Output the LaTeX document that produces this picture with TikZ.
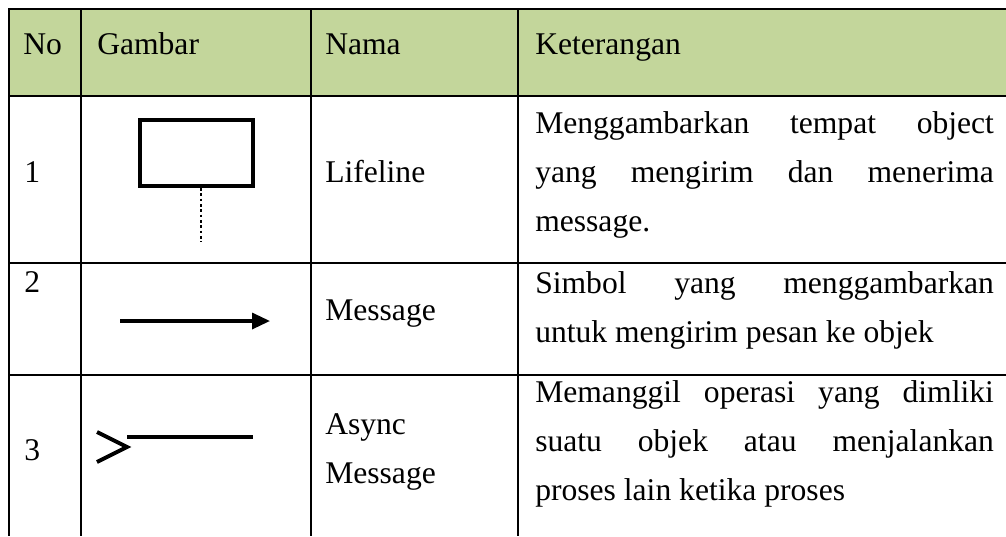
\documentclass[tikz,border=0pt]{standalone}
\usepackage{fontspec}
\setmainfont{Liberation Serif}
\usetikzlibrary{arrows.meta,positioning}
\definecolor{headgreen}{HTML}{C3D69B}

\begin{document}
\begin{tikzpicture}[
    x=0.75pt, y=-0.75pt,
    grid/.style={line width=1.5pt, color=black},
    cell/.style={anchor=base west, inner sep=0pt, font=\fontsize{23.7}{36.75}\selectfont},
    desc/.style={anchor=north west, inner sep=0pt, text width=344pt, align=justify,
                 font=\fontsize{23.7}{36.75}\selectfont},
    lifebox/.style={rectangle, draw=black, line width=3pt, minimum width=84.75pt, minimum height=49.5pt},
    msgarrow/.style={line width=2.5pt, -{Triangle[length=13.5pt,width=12pt]}},
    asyncline/.style={line width=3pt}
]
\useasboundingbox (0,0) rectangle (1006,536);

% Header background
\fill[headgreen] (9,9) rectangle (1006,96);

% Table lines
\draw[grid] (8,9) -- (1006,9);
\draw[grid] (9,96) -- (1006,96);
\draw[grid] (9,263) -- (1006,263);
\draw[grid] (9,375) -- (1006,375);
\draw[grid] (9,8) -- (9,536);
\draw[grid] (81,9) -- (81,536);
\draw[grid] (311,9) -- (311,536);
\draw[grid] (518,9) -- (518,536);

% Header
\node[cell] (hno) at (23,54) {No};
\node[cell] (hgambar) at (97,54) {Gambar};
\node[cell] (hnama) at (325,54) {Nama};
\node[cell] (hket) at (535,54) {Keterangan};

% Row 1: Lifeline
\node[cell] (no1) at (24,182) {1};
\node[lifebox] (life) at (196.5,153) {};
\coordinate (lifeend) at (201,242);
\draw[dotted, line width=2pt] (life.south -| lifeend) -- (lifeend);
\node[cell] (nama1) at (325,182) {Lifeline};
\node[desc] (ket1) at (535,98.7) {\strut Menggambarkan tempat object\linebreak
    yang mengirim dan menerima\linebreak message.};

% Row 2: Message
\node[cell] (no2) at (24,292) {2};
\coordinate (msgstart) at (120,321);
\coordinate (msgend) at (270,321);
\draw[msgarrow] (msgstart) -- (msgend);
\node[cell] (nama2) at (325,320) {Message};
\node[desc] (ket2) at (535,258.7) {\strut Simbol yang menggambarkan\linebreak
    untuk mengirim pesan ke objek};

% Row 3: Async Message
\node[cell] (no3) at (24,460) {3};
\coordinate (asyncstart) at (127,437);
\coordinate (asyncend) at (253,437);
\draw[asyncline] (asyncstart) -- (asyncend);
\draw[asyncline] (97,432) -- (127,447) -- (97,462);
\node[desc, text width=150pt, align=left] (nama3) at (325,400) {\strut Async\\Message};
\node[desc] (ket3) at (535,367.7) {\strut Memanggil operasi yang dimliki\linebreak
    suatu objek atau menjalankan\linebreak proses lain ketika proses};

\end{tikzpicture}
\end{document}
